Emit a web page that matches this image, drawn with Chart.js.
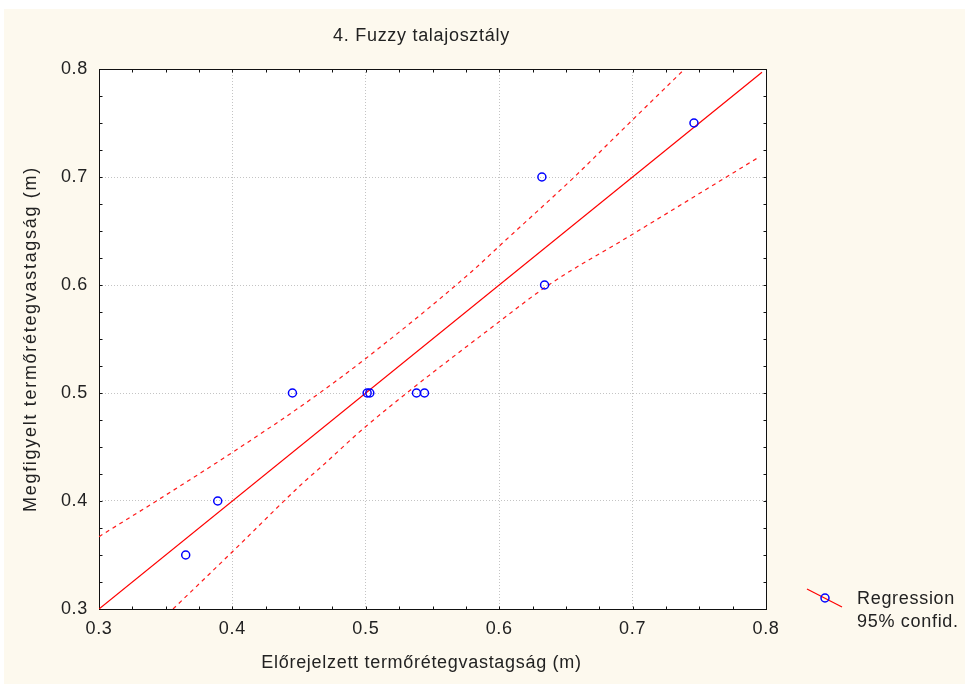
<!DOCTYPE html>
<html>
<head>
<meta charset="utf-8">
<script src="https://cdn.jsdelivr.net/npm/chart.js@4/dist/chart.umd.min.js"></script>
<style>
html,body{margin:0;padding:0;background:#fff;}
#wrap{width:965px;height:684px;position:relative;}
</style>
</head>
<body>
<div id="wrap"><canvas id="c" width="965" height="684"></canvas></div>
<script>
// ---- texts ----
const chartTitle = '4. Fuzzy talajosztály';
const xAxisLabel = 'Előrejelzett termőrétegvastagság (m)';
const yAxisLabel = 'Megfigyelt termőrétegvastagság (m)';
const legendLabels = ['Regression', '95% confid.'];

// ---- observations ----
const predicted = [0.365, 0.389, 0.445, 0.501, 0.503, 0.538, 0.544, 0.632, 0.634, 0.746];
const observed  = [0.35,  0.40,  0.50,  0.50,  0.50,  0.50,  0.50,  0.70,  0.60,  0.75];

// ---- regression line ----
const regX = [0.300, 0.797];
const regY = [0.300, 0.797];

// ---- 95% confidence bands ----
const upperX = [0.300, 0.343, 0.400, 0.454, 0.500, 0.579, 0.600, 0.658, 0.686, 0.739];
const upperY = [0.367, 0.400, 0.445, 0.490, 0.532, 0.612, 0.636, 0.702, 0.736, 0.800];
const lowerX = [0.3555, 0.400, 0.454, 0.466, 0.500, 0.600, 0.637, 0.700, 0.7955];
const lowerY = [0.300, 0.353, 0.418, 0.431, 0.469, 0.566, 0.600, 0.647, 0.719];

// ---- ticks ----
const xTickValues = [0.3, 0.4, 0.5, 0.6, 0.7, 0.8];
const yTickValues = [0.3, 0.4, 0.5, 0.6, 0.7, 0.8];
const minorTickValues = [0.3, 0.325, 0.35, 0.375, 0.4, 0.425, 0.45, 0.475, 0.5, 0.525,
                         0.55, 0.575, 0.6, 0.625, 0.65, 0.675, 0.7, 0.725, 0.75, 0.775, 0.8];

const FONT = '"Liberation Sans", Arial, Helvetica, sans-serif';
const TEXT = '#222222';
const SPACING = '0.7px';

const pts = (xs, ys) => xs.map((x, i) => ({x: x, y: ys[i]}));

const decor = {
  id: 'decor',
  beforeLayout(chart) { chart.ctx.letterSpacing = SPACING; },
  beforeDraw(chart) {
    const ctx = chart.ctx, a = chart.chartArea;
    ctx.save();
    ctx.fillStyle = '#ffffff';
    ctx.fillRect(0, 0, chart.width, chart.height);
    ctx.fillStyle = '#fdf9ee';
    ctx.fillRect(4, 9, chart.width - 4, chart.height - 9);
    ctx.fillStyle = '#ffffff';
    ctx.fillRect(a.left, a.top, a.right - a.left, a.bottom - a.top);
    ctx.restore();
    ctx.letterSpacing = SPACING;
  },
  beforeDatasetsDraw(chart) {
    const ctx = chart.ctx, a = chart.chartArea;
    const xs = chart.scales.x, ys = chart.scales.y;
    ctx.save();
    ctx.strokeStyle = '#111111';
    ctx.lineWidth = 1;
    const L = Math.round(a.left) + 0.5, R = Math.round(a.right) + 0.5;
    const T = Math.round(a.top) + 0.5, B = Math.round(a.bottom) + 0.5;
    ctx.strokeRect(L, T, R - L, B - T);
    const len = 3;
    ctx.beginPath();
    minorTickValues.forEach(v => {
      const px = Math.round(xs.getPixelForValue(v)) + 0.5;
      ctx.moveTo(px, B); ctx.lineTo(px, B - len);
      ctx.moveTo(px, T); ctx.lineTo(px, T + len);
      const py = Math.round(ys.getPixelForValue(v)) + 0.5;
      ctx.moveTo(L, py); ctx.lineTo(L + len, py);
      ctx.moveTo(R, py); ctx.lineTo(R - len, py);
    });
    ctx.stroke();
    ctx.restore();
  },
  afterDraw(chart) {
    const ctx = chart.ctx, a = chart.chartArea;
    ctx.save();
    ctx.letterSpacing = SPACING;
    ctx.fillStyle = TEXT;
    ctx.font = '18px ' + FONT;
    ctx.textAlign = 'center';
    ctx.textBaseline = 'middle';
    const cx = (a.left + a.right) / 2 - 11;
    ctx.fillText(chartTitle, cx, a.top - 33);
    ctx.fillText(xAxisLabel, cx, a.bottom + 54);
    // y axis title (rotated)
    ctx.save();
    ctx.letterSpacing = '1.7px';
    ctx.translate(a.left - 67.5, (a.top + a.bottom) / 2);
    ctx.rotate(-Math.PI / 2);
    ctx.fillText(yAxisLabel, 0, 0);
    ctx.restore();
    // legend
    ctx.strokeStyle = '#ff0000';
    ctx.lineWidth = 1.2;
    ctx.beginPath();
    ctx.moveTo(a.right + 41, a.bottom - 20);
    ctx.lineTo(a.right + 76, a.bottom - 2);
    ctx.stroke();
    ctx.strokeStyle = '#0000ff';
    ctx.lineWidth = 1.5;
    ctx.beginPath();
    ctx.arc(a.right + 59, a.bottom - 11, 4, 0, Math.PI * 2);
    ctx.stroke();
    ctx.textAlign = 'left';
    ctx.fillText(legendLabels[0], a.right + 91, a.bottom - 10);
    ctx.fillText(legendLabels[1], a.right + 91, a.bottom + 13);
    ctx.restore();
  }
};

const axisCommon = (vals) => ({
  type: 'linear',
  min: 0.3,
  max: 0.8,
  afterBuildTicks: s => { s.ticks = vals.map(v => ({value: v})); },
  ticks: {
    font: {family: FONT, size: 18},
    color: TEXT,
    callback: v => v.toFixed(1),
    autoSkip: false,
    maxRotation: 0
  },
  grid: {color: '#c4c4c4', lineWidth: 1, drawTicks: false},
  border: {display: false, dash: [1, 2]}
});

const xOpts = axisCommon(xTickValues);
xOpts.position = 'bottom';
xOpts.ticks.padding = 9;
xOpts.afterFit = s => { s.height = 75; };

const yOpts = axisCommon(yTickValues);
yOpts.position = 'left';
yOpts.ticks.padding = 11;
yOpts.afterFit = s => { s.width = 99; };

new Chart(document.getElementById('c'), {
  type: 'scatter',
  data: {
    datasets: [
      {
        label: 'Observed',
        data: pts(predicted, observed),
        pointRadius: 4,
        pointHoverRadius: 4,
        pointBorderColor: '#0000ff',
        pointBackgroundColor: 'rgba(0,0,0,0)',
        pointBorderWidth: 1.5,
        showLine: false,
        order: 0
      },
      {
        label: 'Regression',
        data: pts(regX, regY),
        showLine: true,
        borderColor: '#ff0000',
        borderWidth: 1.2,
        pointRadius: 0,
        order: 1
      },
      {
        label: 'Upper 95%',
        data: pts(upperX, upperY),
        showLine: true,
        borderColor: '#ff1a1a',
        borderWidth: 1.2,
        borderDash: [4, 4],
        cubicInterpolationMode: 'monotone',
        pointRadius: 0,
        order: 2
      },
      {
        label: 'Lower 95%',
        data: pts(lowerX, lowerY),
        showLine: true,
        borderColor: '#ff1a1a',
        borderWidth: 1.2,
        borderDash: [4, 4],
        cubicInterpolationMode: 'monotone',
        pointRadius: 0,
        order: 3
      }
    ]
  },
  options: {
    responsive: false,
    animation: false,
    events: [],
    devicePixelRatio: 1,
    layout: {padding: {top: 69, right: 199, left: 0, bottom: 0}},
    plugins: {
      legend: {display: false},
      title: {display: false},
      tooltip: {enabled: false}
    },
    scales: {x: xOpts, y: yOpts}
  },
  plugins: [decor]
});
</script>
</body>
</html>
